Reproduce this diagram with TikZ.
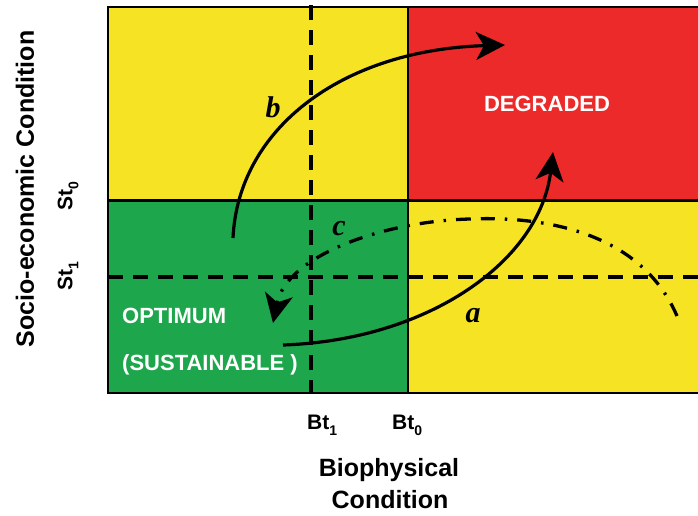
\documentclass[tikz,border=0pt]{standalone}
\usepackage{fontspec}
\setmainfont{Liberation Sans}
\newfontfamily\lserif{Liberation Serif}
\usetikzlibrary{arrows.meta}
\definecolor{cyel}{RGB}{246,228,36}
\definecolor{cred}{RGB}{237,42,42}
\definecolor{cgrn}{RGB}{29,166,76}
\newcommand{\mysub}[1]{\raisebox{-6pt}{\fontsize{14}{14}\selectfont #1}}
\begin{document}
\begin{tikzpicture}[x=1pt,y=-1pt,
  frameline/.style={line width=1.5pt,black},
  dashline/.style={line width=3.5pt,dash pattern=on 15pt off 10pt},
  dotdash/.style={line width=3.3pt,dash pattern=on 14pt off 10pt on 2.5pt off 10pt},
  bigtip/.style={-{Stealth[length=29pt,width=28pt,inset=8pt]}},
  curve/.style={line width=3.2pt,bigtip},
  zonelabel/.style={text=white,font=\fontsize{22}{26}\selectfont\bfseries,inner sep=0pt},
  letterlabel/.style={font=\fontsize{30}{32}\selectfont\lserif\bfseries\itshape,inner sep=0pt},
  axislabel/.style={font=\fontsize{25}{29}\selectfont\bfseries,inner sep=0pt},
  ticklabel/.style={font=\fontsize{21}{24}\selectfont\bfseries,inner sep=0pt}]
\useasboundingbox (0,0) rectangle (698,515);
% zones
\fill[cyel] (108,7) rectangle (698,200);
\fill[cred] (408,7) rectangle (698,200);
\fill[cgrn] (108,200) rectangle (408,393);
\fill[cyel] (408,200) rectangle (698,393);
% frame and dividers
\coordinate (tl) at (108,7);
\coordinate (tr) at (698,7);
\coordinate (bl) at (108,393);
\coordinate (br) at (698,393);
\draw[frameline] (tr) -- (tl) -- (bl) -- (br);
\coordinate (vd0) at (408,7);
\coordinate (vd1) at (408,393);
\draw[frameline] (vd0) -- (vd1);
\coordinate (hd0) at (108,200);
\coordinate (hd1) at (698,200);
\draw[line width=3pt] (hd0) -- (hd1);
% dashed thresholds
\coordinate (st1a) at (108,277);
\coordinate (st1b) at (698,277);
\draw[dashline] (st1a) -- (st1b);
\coordinate (bt1a) at (311,5);
\coordinate (bt1b) at (311,393);
\draw[dashline] (bt1a) -- (bt1b);
% curves
\coordinate (a0) at (283,345);
\coordinate (a1) at (553,152);
\draw[curve] (a0) .. controls (430,340) and (540,260) .. (a1);
\coordinate (b0) at (233,238);
\coordinate (b1) at (505,45);
\draw[curve] (b0) .. controls (238,130) and (340,50) .. (b1);
\coordinate (c0) at (677,316);
\coordinate (cm) at (470,219);
\coordinate (c1) at (273,323);
\draw[dotdash] (c0) .. controls (640,230) and (540,216) .. (cm);
\draw[dotdash,bigtip] (cm) .. controls (385,221) and (287,255) .. (c1);
% zone labels
\node[zonelabel] (deg) at (547,104) {DEGRADED};
\node[zonelabel,anchor=base west] (opt) at (122,323) {OPTIMUM};
\node[zonelabel,anchor=base west] (sus) at (122,370) {(SUSTAINABLE )};
% letters
\node[letterlabel] (lb) at (273,107) {b};
\node[letterlabel] (lc) at (339,229) {c};
\node[letterlabel] (la) at (473,316) {a};
% axis labels
\node[axislabel,rotate=90] (ylab) at (25,189) {Socio-economic Condition};
\node[ticklabel,rotate=90] (st0) at (68,196) {St\mysub{0}};
\node[ticklabel,rotate=90] (st1) at (68,276) {St\mysub{1}};
\node[ticklabel,anchor=base west] (bt1) at (307,429) {Bt\mysub{1}};
\node[ticklabel,anchor=base west] (bt0) at (392,429) {Bt\mysub{0}};
\node[axislabel,anchor=base] (xlab1) at (389,476) {Biophysical};
\node[axislabel,anchor=base] (xlab2) at (390,508) {Condition};
\end{tikzpicture}
\end{document}
